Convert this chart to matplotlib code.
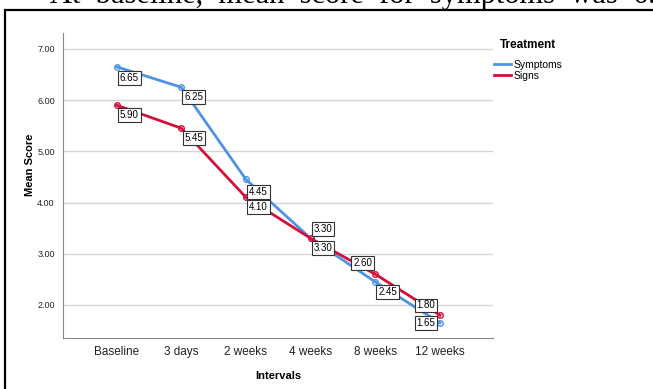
import matplotlib
matplotlib.use("Agg")
import matplotlib.pyplot as plt
from matplotlib.patches import Rectangle
from matplotlib.lines import Line2D

intervals = ["Baseline", "3 days", "2 weeks", "4 weeks", "8 weeks", "12 weeks"]
symptoms = [6.65, 6.25, 4.45, 3.30, 2.45, 1.65]
signs = [5.90, 5.45, 4.10, 3.30, 2.60, 1.80]
yticks = [2.0, 3.0, 4.0, 5.0, 6.0, 7.0]

blue = "#4f93e3"
red = "#d2103a"

plt.rcParams["font.family"] = ["Liberation Sans", "DejaVu Sans"]

W, H = 653, 389
fig = plt.figure(figsize=(W / 100, H / 100), dpi=100)

# outer frame of the pasted SPSS chart, cut off on the right/bottom
fig.add_artist(Rectangle((5 / W, -0.05), 1.1, 1 - 10 / H + 0.05,
                         transform=fig.transFigure, fill=False,
                         edgecolor="black", linewidth=1.6, clip_on=False))
# sentence above the chart, mostly cropped
fig.text(50 / W, 1 - 3.5 / H, "At  baseline,  mean  score  for  symptoms  was  6.65",
         fontsize=22, family="Liberation Serif", va="baseline", ha="left")

ax = fig.add_axes([63 / W, 1 - 338 / H, (493 - 63) / W, (338 - 33) / H])
x = list(range(len(intervals)))

ax.plot(x, symptoms, color=blue, lw=2, marker="o", ms=4, mfc="none",
        mew=1, zorder=3)
ax.plot(x, signs, color=red, lw=2, marker="o", ms=4, mfc="none",
        mew=1, zorder=3)

# label offsets in points (dx, dy) for each point
sym_off = [(9, -8), (9, -7), (9, -9), (9, -7), (9, -7), (-10, 0)]
sig_off = [(9, -7), (9, -7), (9, -7), (9, 7), (-9, 8), (-10, 7)]
box = dict(boxstyle="square,pad=0.2", fc="white", ec="#333333", lw=0.8)
for xi, v, off in zip(x, symptoms, sym_off):
    ax.annotate(f"{v:.2f}", (xi, v), xytext=off, textcoords="offset points",
                ha="center", va="center", fontsize=7, bbox=box, zorder=5)
for xi, v, off in zip(x, signs, sig_off):
    ax.annotate(f"{v:.2f}", (xi, v), xytext=off, textcoords="offset points",
                ha="center", va="center", fontsize=7, bbox=box, zorder=5)

ax.set_xlim(-0.83, 5.82)
ax.set_ylim(1.355, 7.31)
ax.set_xticks(x)
ax.set_xticklabels(intervals, fontsize=8.5, color="#222222")
ax.set_yticks(yticks)
ax.set_yticklabels([f"{t:.2f}" for t in yticks], fontsize=6.5, color="#222222")
ax.tick_params(axis="x", length=0, pad=6)
ax.tick_params(axis="y", length=0, pad=6)
ax.grid(axis="y", color="#d4d4d4", lw=1)
ax.set_axisbelow(True)
for s in ["top", "right"]:
    ax.spines[s].set_visible(False)
for s in ["left", "bottom"]:
    ax.spines[s].set_color("#888888")
    ax.spines[s].set_linewidth(0.8)

ax.set_xlabel("Intervals", fontsize=8, fontweight="bold")
ax.xaxis.set_label_coords(0.5, -0.108)
ax.set_ylabel("Mean Score", fontsize=8, fontweight="bold")
ax.yaxis.set_label_coords(-0.066, 0.567)

# legend: title placed separately to get the SPSS spacing
fig.text(500 / W, 1 - 45 / H, "Treatment", fontsize=8.5, fontweight="bold",
         va="center", ha="left")
handles = [Line2D([], [], color=blue, lw=2), Line2D([], [], color=red, lw=2)]
fig.legend(handles, ["Symptoms", "Signs"], loc="upper left",
           bbox_to_anchor=(492 / W, 1 - 58 / H), frameon=False,
           fontsize=7.5, handlelength=1.6, handletextpad=0.3,
           labelspacing=0.05, borderaxespad=0, borderpad=0.2)

fig.savefig("out.png", dpi=100)
